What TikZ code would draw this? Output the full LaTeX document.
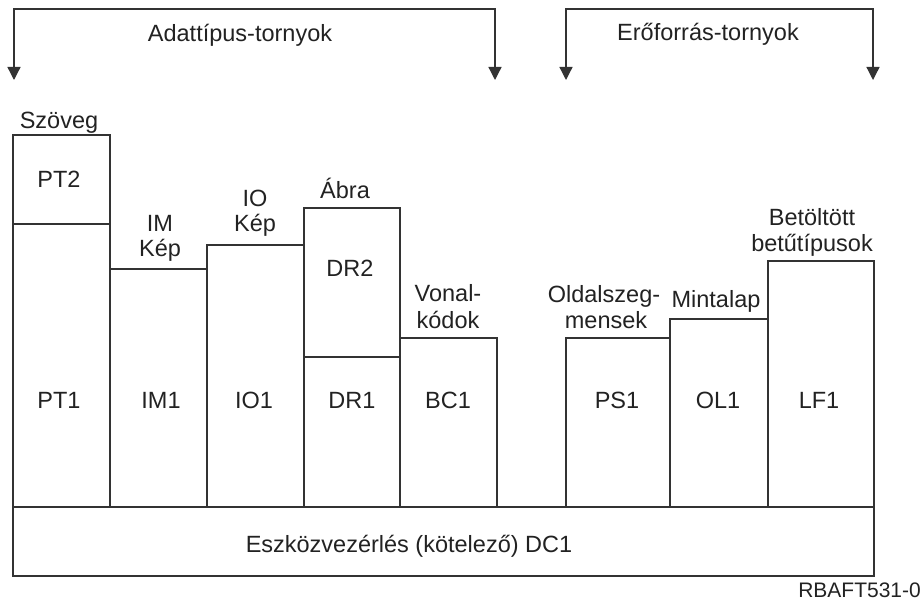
\documentclass[tikz,border=0pt]{standalone}
\usepackage{fontspec}
\setmainfont{Liberation Sans}
\usetikzlibrary{arrows.meta}
\definecolor{linegray}{HTML}{333333}
\definecolor{txt}{HTML}{222222}
\begin{document}
\begin{tikzpicture}[x=1pt,y=-1pt,
  box/.style={draw=linegray, line width=1.3pt},
  lbl/.style={anchor=base, inner sep=0pt, font=\fontsize{23.5}{27}\selectfont, text=txt},
  note/.style={anchor=base east, inner sep=0pt, font=\fontsize{21}{25}\selectfont, text=txt},
  bracket/.style={draw=linegray, line width=1.3pt,
    {Triangle[width=13pt,length=13pt]}-{Triangle[width=13pt,length=13pt]}}]
\useasboundingbox (0,0) rectangle (923,601);

% group brackets
\coordinate (dL) at (14,80);
\coordinate (dR) at (495,80);
\coordinate (dtop) at (254,9);
\coordinate (rL) at (566,80);
\coordinate (rR) at (873,80);
\coordinate (rtop) at (720,9);
\draw[bracket] (dL) |- (dtop) -| (dR);
\draw[bracket] (rL) |- (rtop) -| (rR);
\node[lbl] (dgroup) at (240,42) {Adattípus-tornyok};
\node[lbl] (rgroup) at (708,41) {Erőforrás-tornyok};

% towers
\draw[box] (13,135) rectangle (110,507);
\draw[box] (13,224) -- (110,224);
\draw[box] (110,269) rectangle (207,507);
\draw[box] (207,245) rectangle (304,507);
\draw[box] (304,208) rectangle (400,507);
\draw[box] (304,357) -- (400,357);
\draw[box] (400,338) rectangle (497,507);
\draw[box] (566,338) rectangle (670,507);
\draw[box] (670,319) rectangle (768,507);
\draw[box] (768,261) rectangle (874,507);

% device control base
\draw[box] (13,507) rectangle (874,576);
\node[lbl] (dc1) at (409,552) {Eszközvezérlés (kötelező) DC1};

% tower captions
\node[lbl] (szoveg) at (59,129) {Szöveg};
\node[lbl] (im) at (160,232) {IM};
\node[lbl] (imkep) at (160,257) {Kép};
\node[lbl] (io) at (255,207) {IO};
\node[lbl] (iokep) at (255,232) {Kép};
\node[lbl] (abra) at (345,199) {Ábra};
\node[lbl] (vonal) at (448,302) {Vonal-};
\node[lbl] (kodok) at (448,328) {kódok};
\node[lbl] (oldal) at (604,303) {Oldalszeg-};
\node[lbl] (mensek) at (606,328) {mensek};
\node[lbl] (minta) at (716,308) {Mintalap};
\node[lbl] (betolt) at (812,226) {Betöltött};
\node[lbl] (betu) at (812,252) {betűtípusok};

% tower contents
\node[lbl] (pt2) at (59,188) {PT2};
\node[lbl] (dr2) at (350,277) {DR2};
\node[lbl] (pt1) at (59,408) {PT1};
\node[lbl] (im1) at (161,408) {IM1};
\node[lbl] (io1) at (254,408) {IO1};
\node[lbl] (dr1) at (352,408) {DR1};
\node[lbl] (bc1) at (448,408) {BC1};
\node[lbl] (ps1) at (617,408) {PS1};
\node[lbl] (ol1) at (718,408) {OL1};
\node[lbl] (lf1) at (819,408) {LF1};

\node[note] (figid) at (921,597) {RBAFT531-0};
\end{tikzpicture}
\end{document}
